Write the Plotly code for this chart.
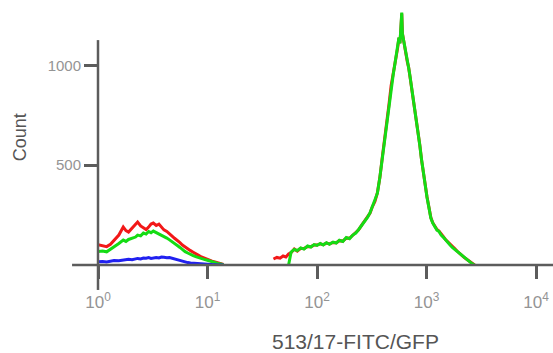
import plotly.graph_objects as go

# ---- data ----
# low-intensity population (fluorescence, shared grid)
fl_low = [1.0, 1.1, 1.2, 1.3, 1.4, 1.55, 1.7, 1.8, 1.9, 2.05, 2.2, 2.3, 2.45, 2.6, 2.75,
          2.9, 3.05, 3.2, 3.4, 3.6, 3.8, 4.0, 4.25, 4.5, 4.75, 5.0, 5.3, 5.6, 5.9, 6.25,
          6.6, 7.0, 7.4, 7.8, 8.3, 8.8, 9.3, 9.8, 10.4, 11.0, 11.7, 12.4, 13.2, 14.0]
red_low = [102, 96, 92, 104, 125, 150, 190, 172, 165, 185, 200, 215, 196, 185, 178,
           190, 205, 210, 198, 205, 188, 176, 168, 158, 145, 134, 124, 112, 100, 92,
           82, 72, 64, 58, 48, 40, 34, 29, 24, 19, 15, 11, 7, 3]
green_low = [68, 70, 66, 78, 92, 108, 125, 118, 128, 134, 140, 150, 146, 160, 155,
             168, 162, 170, 163, 158, 150, 142, 135, 126, 118, 109, 98, 88, 76, 67,
             60, 52, 47, 42, 36, 31, 28, 25, 20, 15, 11, 8, 5, 2]
blue_low = [16, 18, 15, 20, 22, 21, 25, 27, 29, 26, 31, 33, 30, 35, 34,
            37, 33, 36, 38, 35, 40, 39, 36, 37, 33, 29, 26, 22, 18, 15,
            12, 10, 9, 8, 6, 4, 3, 1, 0, 0, 0, 0, 0, 0]

# high-intensity population (fluorescence, shared grid)
fl_high = [40, 43, 46, 49, 52, 55, 58, 62, 66, 71, 76, 82, 88, 94, 100,
           107, 114, 122, 130, 140, 150, 160, 172, 185, 198,
           212, 226, 240, 256, 272, 290, 305, 320, 338, 356,
           375, 395, 415, 435, 455, 475, 495, 515, 530, 545,
           560, 572, 584, 594, 602, 612, 622, 635, 650, 668,
           686, 705, 728, 752, 778, 806, 836, 868, 900, 935,
           970, 1010, 1050, 1095, 1140, 1190, 1245, 1300, 1360, 1420,
           1490, 1560, 1640, 1720, 1810, 1900, 2000, 2110, 2230, 2360,
           2500, 2620, 2750]
red_high = [30, 38, 34, 45, 40, 55, 62, 80, 70, 84, 82, 93, 92, 100, 100,
            106, 102, 110, 106, 113, 112, 122, 120, 135, 134,
            148, 162, 176, 200, 220, 242, 260, 292, 318, 362,
            438, 542, 628, 722, 808, 898, 952, 1008, 1052, 1088,
            1138, 1112, 1188, 1260, 1162, 1138, 1112, 1078, 1052, 1018,
            992, 948, 898, 842, 788, 742, 668, 602, 528, 462,
            402, 342, 292, 238, 212, 197, 178, 170, 153, 143,
            128, 118, 104, 92, 82, 70, 58, 48, 36, 26,
            15, 7, 0]
green_high = [None, None, None, None, None, 0, 65, 78, 72, 86, 80, 95, 90, 102, 98,
              108, 100, 112, 104, 115, 110, 124, 118, 138, 132,
              150, 160, 178, 198, 222, 240, 262, 290, 320, 360,
              440, 540, 630, 720, 810, 900, 950, 1010, 1050, 1090,
              1140, 1110, 1190, 1265, 1160, 1140, 1110, 1080, 1050, 1020,
              990, 950, 900, 840, 790, 740, 670, 600, 530, 460,
              400, 340, 290, 235, 210, 195, 175, 168, 150, 140,
              125, 115, 100, 88, 78, 66, 55, 45, 34, 24,
              14, 6, 0]

x_ticks = [1, 10, 100, 1000, 10000]
x_ticktext = ["10<sup>0</sup>", "10<sup>1</sup>", "10<sup>2</sup>", "10<sup>3</sup>", "10<sup>4</sup>"]
y_ticks = [500, 1000]
y_ticktext = ["500", "1000"]

AX = "#5c5c5c"
TICKFONT = "#949494"
FONT = "Liberation Sans, Arial, sans-serif"

fig = go.Figure()

def add(xs_low, ys_low, xs_high, ys_high, color):
    xs = list(xs_low) + [None] + list(xs_high)
    ys = list(ys_low) + [None] + list(ys_high)
    fig.add_trace(go.Scatter(x=xs, y=ys, mode="lines", connectgaps=False,
                             line=dict(color=color, width=3), showlegend=False,
                             hoverinfo="skip"))

add(fl_low, red_low, fl_high, red_high, "#f21818")
add(fl_low, green_low, fl_high, green_high, "#14dc14")
add(fl_low, blue_low, [], [], "#2020f0")

fig.update_layout(
    width=553, height=353,
    margin=dict(l=98, r=0, t=5, b=88, autoexpand=False),
    paper_bgcolor="white", plot_bgcolor="white",
    font=dict(family=FONT),
    xaxis=dict(type="log", range=[0, 4.155], tickvals=x_ticks, ticktext=x_ticktext,
               ticks="outside", ticklen=13, tickwidth=2.5, tickcolor=AX,
               showline=False, showgrid=False, zeroline=False, automargin=False,
               tickfont=dict(size=17, color=TICKFONT, family=FONT),
               ticklabelstandoff=9),
    yaxis=dict(range=[0, 1303], tickvals=y_ticks, ticktext=y_ticktext,
               ticks="outside", ticklen=13, tickwidth=2.5, tickcolor=AX,
               showline=False, showgrid=False, zeroline=False, automargin=False,
               tickfont=dict(size=15, color=TICKFONT, family=FONT)),
    shapes=[
        dict(type="line", xref="paper", yref="paper", x0=0, x1=0, y0=-0.096, y1=0.865,
             line=dict(color=AX, width=2.5)),
        dict(type="line", xref="paper", yref="paper", x0=-0.057, x1=1.0, y0=0, y1=0,
             line=dict(color=AX, width=2.5)),
    ],
    annotations=[
        dict(text="Count", xref="paper", yref="paper", x=-0.172, y=0.49,
             textangle=-90, showarrow=False, xanchor="center", yanchor="middle",
             font=dict(size=18, color="#555555", family=FONT)),
        dict(text="513/17-FITC/GFP", xref="paper", yref="paper", x=0.567, y=-0.296,
             showarrow=False, xanchor="center", yanchor="middle",
             font=dict(size=21, color="#555555", family=FONT)),
    ],
)

fig.write_html("out.html", config={"displayModeBar": False},
               post_script="document.body.style.margin='0';document.body.style.overflow='hidden';")
